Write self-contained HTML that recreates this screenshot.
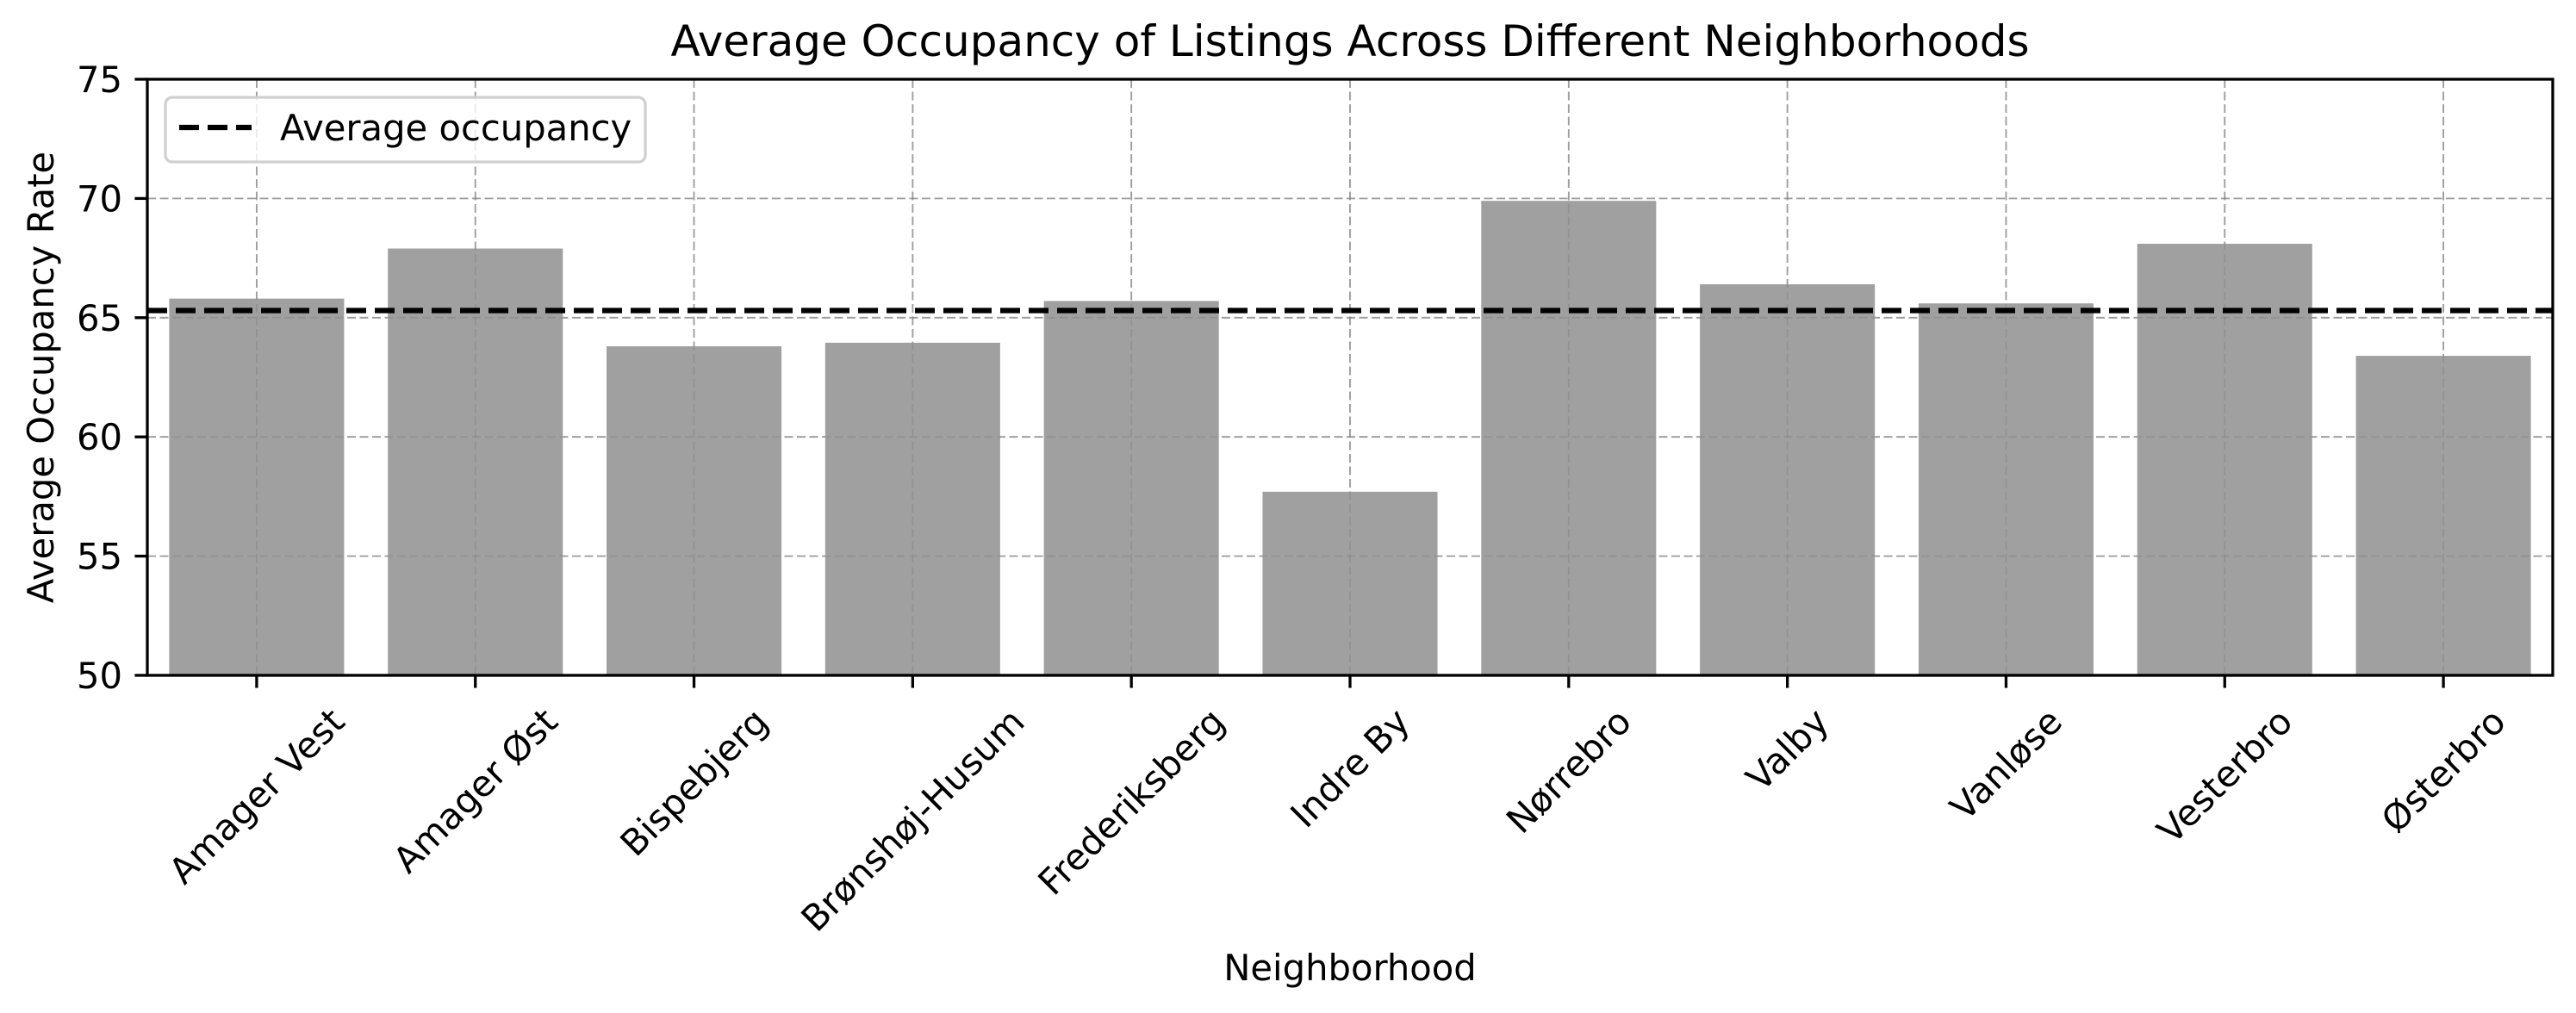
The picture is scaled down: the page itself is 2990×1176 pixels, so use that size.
<!DOCTYPE html>
<html><head><meta charset="utf-8"><style>
html,body{margin:0;padding:0;background:#fff;}
svg{display:block;font-family:"DejaVu Sans","Liberation Sans",sans-serif;}
</style></head><body>
<svg id="chart" width="2990" height="1176" viewBox="0 0 2990 1176" xmlns="http://www.w3.org/2000/svg">
<rect width="2990" height="1176" fill="#fff"/>
<g id="grid"></g>
<g id="bars"></g>
<g id="gridTop"></g>
<g id="avg"></g>
<g id="axes"></g>
<g id="xlabels"></g>
<g id="ylabels"></g>
<text x="1567" y="65" font-size="50" text-anchor="middle">Average Occupancy of Listings Across Different Neighborhoods</text>
<text x="1567" y="1138" font-size="41.7" text-anchor="middle">Neighborhood</text>
<text transform="translate(62,438) rotate(-90)" font-size="41.7" text-anchor="middle">Average Occupancy Rate</text>
<g>
<rect x="192" y="113" width="557" height="75" rx="8" fill="#fff" fill-opacity="0.8" stroke="#d0d0d0" stroke-width="3.3"/>
<line x1="208" y1="148" x2="292" y2="148" stroke="#000" stroke-width="6.25" stroke-dasharray="23,10"/>
<text x="325" y="163" font-size="41.7">Average occupancy</text>
</g>
</svg>
<script>
const categories = ["Amager Vest","Amager Øst","Bispebjerg","Brønshøj-Husum","Frederiksberg","Indre By","Nørrebro","Valby","Vanløse","Vesterbro","Østerbro"];
const occupancy = [65.8, 67.9, 63.8, 63.95, 65.7, 57.7, 69.9, 66.4, 65.6, 68.1, 63.4];
const averageOccupancy = [65.3];
const yTicks = [50, 55, 60, 65, 70, 75];

const NS = "http://www.w3.org/2000/svg";
const L = 171, R = 2963, T = 92, B = 784;
const yMin = 50, yMax = 75;
const n = categories.length;
const step = (R - L) / n;
function xs(i){ return L + step * (i + 0.5); }
function ys(v){ return B - (v - yMin) / (yMax - yMin) * (B - T); }
function mk(tag, attrs, parent){ const e = document.createElementNS(NS, tag); for (const k in attrs) e.setAttribute(k, attrs[k]); parent.appendChild(e); return e; }

const grid = document.getElementById('grid'), gridTop = document.getElementById('gridTop');
function drawGrid(parent, op){
  yTicks.forEach(t => {
    const l = mk('line', {x1:L, x2:R, y1:ys(t), y2:ys(t), stroke:'#808080', 'stroke-opacity':op, 'stroke-width':1.8, 'stroke-dasharray':'10,4.5'}, parent);
    
    
  });
  categories.forEach((c, i) => {
    const l = mk('line', {x1:xs(i), x2:xs(i), y1:T, y2:B, stroke:'#808080', 'stroke-opacity':op, 'stroke-width':1.8, 'stroke-dasharray':'10,4.5'}, parent);
    
    
  });
}
drawGrid(grid, 0.6);

const bars = document.getElementById('bars');
const bw = step * 0.8;
occupancy.forEach((v, i) => {
  const r = mk('rect', {x:xs(i) - bw/2, y:ys(v), width:bw, height:B - ys(v), fill:'#a0a0a0'}, bars);
  
  
});
drawGrid(gridTop, 0.45);

const avg = document.getElementById('avg');
const al = mk('line', {x1:L, x2:R, y1:ys(averageOccupancy[0]), y2:ys(averageOccupancy[0]), stroke:'#000', 'stroke-width':6.25, 'stroke-dasharray':'23,10'}, avg);



const axes = document.getElementById('axes');
const frame = mk('rect', {x:L, y:T, width:R - L, height:B - T, fill:'none', stroke:'#000', 'stroke-width':3.3}, axes);



const ylabels = document.getElementById('ylabels');
yTicks.forEach(t => {
  const tk = mk('line', {x1:L - 14.6, x2:L, y1:ys(t), y2:ys(t), stroke:'#000', 'stroke-width':3.3}, axes);
  
  
  const tx = mk('text', {x:L - 29, y:ys(t) + 15, 'font-size':41.7, 'text-anchor':'end'}, ylabels);
  tx.textContent = t;
  
  
});

const xlabels = document.getElementById('xlabels');
categories.forEach((c, i) => {
  const tk = mk('line', {x1:xs(i), x2:xs(i), y1:B, y2:B + 14.6, stroke:'#000', 'stroke-width':3.3}, axes);
  
  
  const tx = mk('text', {'font-size':41.7, 'text-anchor':'middle', 'dominant-baseline':'central'}, xlabels);
  tx.textContent = c;
  
  
  const len = tx.getComputedTextLength();
  const h = 41.7 * 1.16;
  const bb = (len + h) * Math.SQRT1_2;
  tx.setAttribute('transform', 'translate(' + xs(i) + ',' + (B + 29 + bb/2) + ') rotate(-45)');
});
</script>
</body></html>
